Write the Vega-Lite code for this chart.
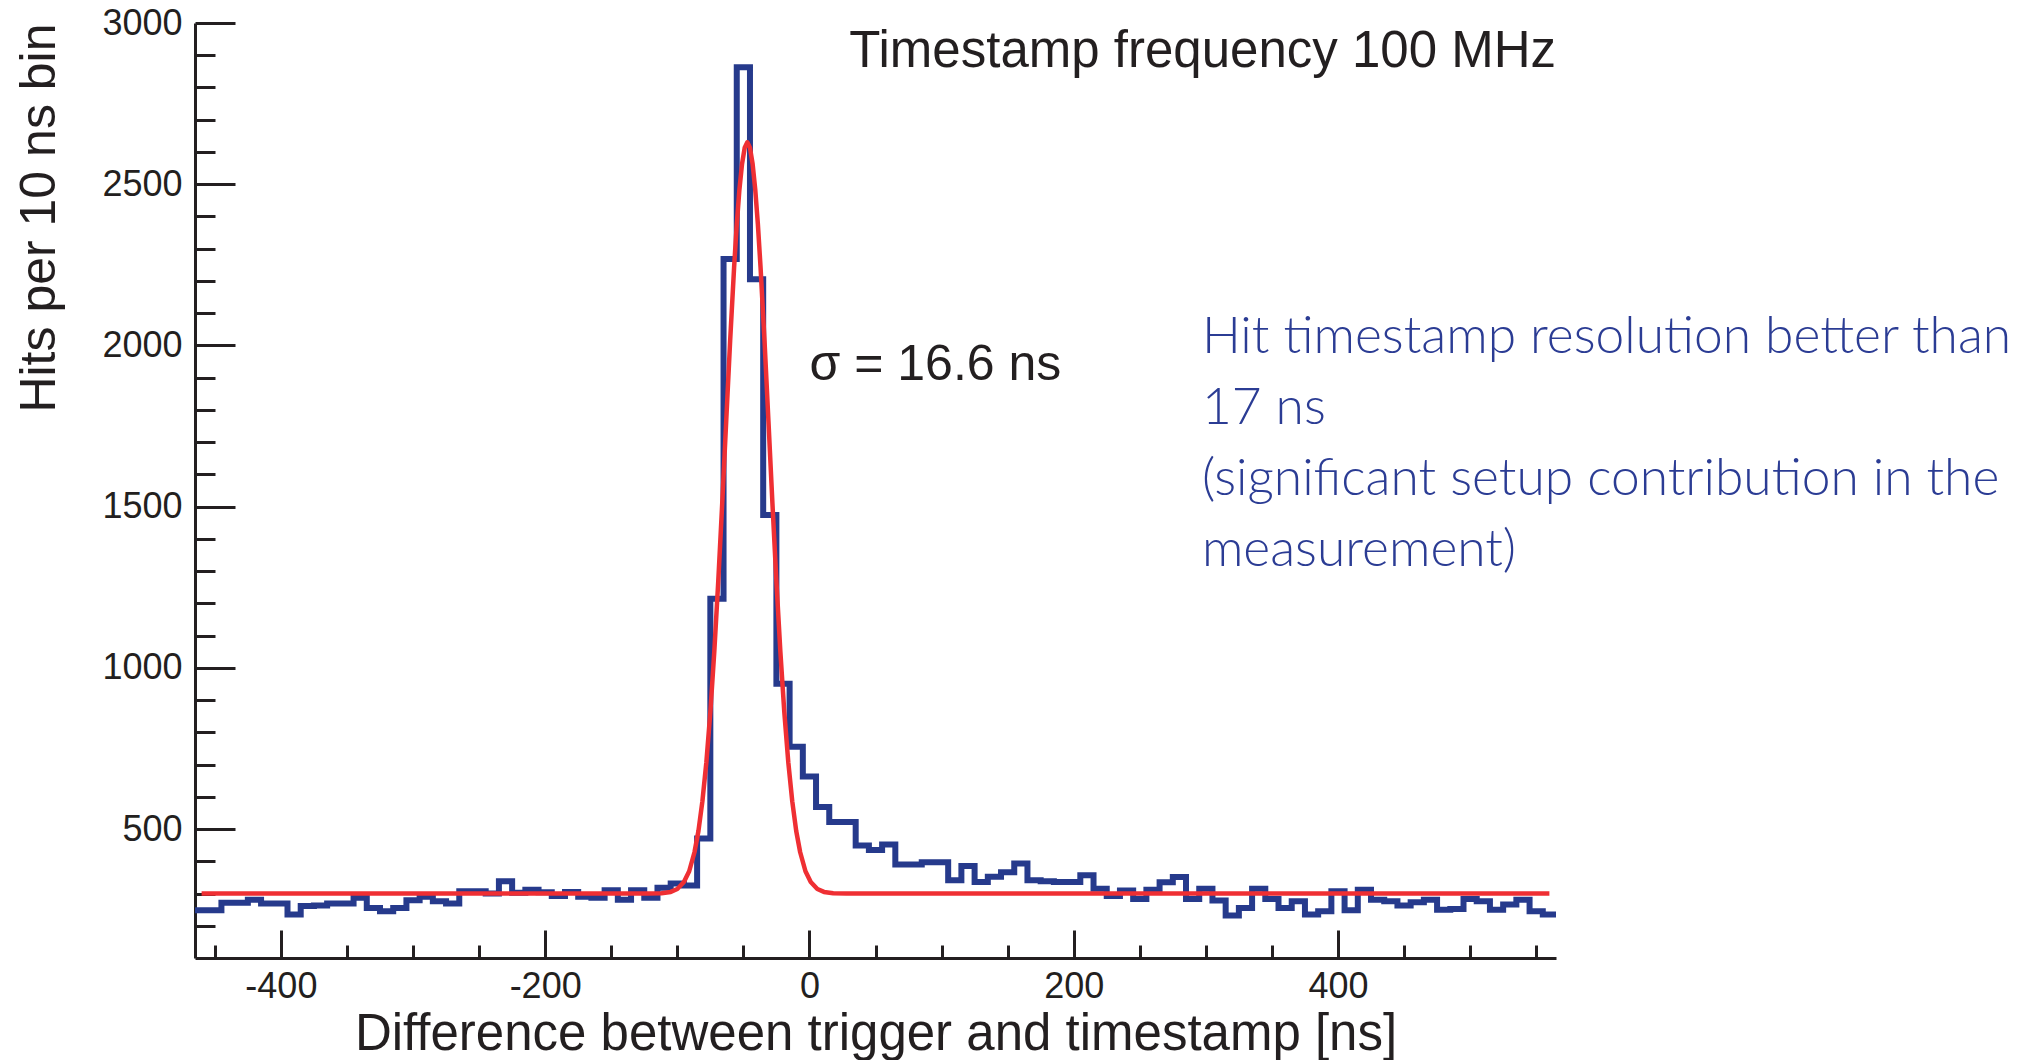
{
  "$schema": "https://vega.github.io/schema/vega-lite/v6.json",
  "width": 1361,
  "height": 935,
  "autosize": {"type": "none"},
  "padding": {"left": 195, "top": 23, "right": 479, "bottom": 102},
  "background": "white",
  "config": {"view": {"stroke": null}, "font": "Liberation Sans", "axis": {"grid": false, "labelFlush": false, "labelOverlap": false}},
  "datasets": {
    "hist": [
      {"t": -465, "hits": 248}, {"t": -455, "hits": 248}, {"t": -445, "hits": 271}, {"t": -435, "hits": 271},
      {"t": -425, "hits": 281}, {"t": -415, "hits": 269}, {"t": -405, "hits": 269}, {"t": -395, "hits": 235},
      {"t": -385, "hits": 261}, {"t": -375, "hits": 263}, {"t": -365, "hits": 269}, {"t": -355, "hits": 269},
      {"t": -345, "hits": 287}, {"t": -335, "hits": 255}, {"t": -325, "hits": 245}, {"t": -315, "hits": 255},
      {"t": -305, "hits": 279}, {"t": -295, "hits": 290}, {"t": -285, "hits": 276}, {"t": -275, "hits": 269},
      {"t": -265, "hits": 307}, {"t": -255, "hits": 307}, {"t": -245, "hits": 300}, {"t": -235, "hits": 338},
      {"t": -225, "hits": 302}, {"t": -215, "hits": 312}, {"t": -205, "hits": 304}, {"t": -195, "hits": 292},
      {"t": -185, "hits": 305}, {"t": -175, "hits": 290}, {"t": -165, "hits": 287}, {"t": -155, "hits": 310},
      {"t": -145, "hits": 281}, {"t": -135, "hits": 310}, {"t": -125, "hits": 287}, {"t": -115, "hits": 318},
      {"t": -105, "hits": 331}, {"t": -95, "hits": 325}, {"t": -85, "hits": 471}, {"t": -75, "hits": 1214},
      {"t": -65, "hits": 2268}, {"t": -55, "hits": 2863}, {"t": -45, "hits": 2205}, {"t": -35, "hits": 1474},
      {"t": -25, "hits": 951}, {"t": -15, "hits": 755}, {"t": -5, "hits": 663}, {"t": 5, "hits": 568},
      {"t": 15, "hits": 522}, {"t": 25, "hits": 522}, {"t": 35, "hits": 449}, {"t": 45, "hits": 435},
      {"t": 55, "hits": 452}, {"t": 65, "hits": 390}, {"t": 75, "hits": 390}, {"t": 85, "hits": 397},
      {"t": 95, "hits": 397}, {"t": 105, "hits": 341}, {"t": 115, "hits": 385}, {"t": 125, "hits": 336},
      {"t": 135, "hits": 352}, {"t": 145, "hits": 366}, {"t": 155, "hits": 393}, {"t": 165, "hits": 341},
      {"t": 175, "hits": 338}, {"t": 185, "hits": 336}, {"t": 195, "hits": 336}, {"t": 205, "hits": 357},
      {"t": 215, "hits": 315}, {"t": 225, "hits": 292}, {"t": 235, "hits": 309}, {"t": 245, "hits": 283},
      {"t": 255, "hits": 312}, {"t": 265, "hits": 335}, {"t": 275, "hits": 351}, {"t": 285, "hits": 283},
      {"t": 295, "hits": 315}, {"t": 305, "hits": 278}, {"t": 315, "hits": 232}, {"t": 325, "hits": 255},
      {"t": 335, "hits": 315}, {"t": 345, "hits": 283}, {"t": 355, "hits": 255}, {"t": 365, "hits": 276},
      {"t": 375, "hits": 235}, {"t": 385, "hits": 245}, {"t": 395, "hits": 307}, {"t": 405, "hits": 248},
      {"t": 415, "hits": 312}, {"t": 425, "hits": 281}, {"t": 435, "hits": 276}, {"t": 445, "hits": 263},
      {"t": 455, "hits": 273}, {"t": 465, "hits": 281}, {"t": 475, "hits": 250}, {"t": 485, "hits": 252},
      {"t": 495, "hits": 283}, {"t": 505, "hits": 276}, {"t": 515, "hits": 250}, {"t": 525, "hits": 266},
      {"t": 535, "hits": 281}, {"t": 545, "hits": 245}, {"t": 555, "hits": 235}, {"t": 565, "hits": 235}
    ],
    "fit": [
      {"t": -460, "f": 300}, {"t": -122, "f": 300}, {"t": -112, "f": 301}, {"t": -105, "f": 305},
      {"t": -100, "f": 314}, {"t": -95, "f": 336}, {"t": -91, "f": 369}, {"t": -87, "f": 428},
      {"t": -84, "f": 494}, {"t": -81, "f": 586}, {"t": -78, "f": 707}, {"t": -75, "f": 862},
      {"t": -72, "f": 1050}, {"t": -69, "f": 1268}, {"t": -66, "f": 1510}, {"t": -63, "f": 1764},
      {"t": -60, "f": 2015}, {"t": -57, "f": 2243}, {"t": -55, "f": 2375}, {"t": -53, "f": 2483},
      {"t": -51, "f": 2563}, {"t": -49, "f": 2613}, {"t": -47, "f": 2630}, {"t": -45, "f": 2613},
      {"t": -43, "f": 2563}, {"t": -41, "f": 2483}, {"t": -39, "f": 2375}, {"t": -37, "f": 2243},
      {"t": -34, "f": 2015}, {"t": -31, "f": 1764}, {"t": -28, "f": 1510}, {"t": -25, "f": 1268},
      {"t": -22, "f": 1050}, {"t": -19, "f": 862}, {"t": -16, "f": 707}, {"t": -13, "f": 586},
      {"t": -10, "f": 494}, {"t": -7, "f": 428}, {"t": -3, "f": 369}, {"t": 1, "f": 336},
      {"t": 6, "f": 314}, {"t": 11, "f": 305}, {"t": 18, "f": 301}, {"t": 28, "f": 300},
      {"t": 560, "f": 300}
    ]
  },
  "layer": [
    {
      "data": {"name": "hist"},
      "mark": {"type": "line", "interpolate": "step-after", "color": "#263a8c", "strokeWidth": 6, "strokeJoin": "miter", "strokeCap": "butt"},
      "encoding": {
        "x": {
          "field": "t", "type": "quantitative",
          "scale": {"domain": [-465, 565], "nice": false, "zero": false},
          "axis": {
            "orient": "bottom", "values": [-400, -200, 0, 200, 400], "ticks": false,
            "domain": true, "domainColor": "#231f20", "domainWidth": 3,
            "labelExpr": "'' + datum.value", "labelFont": "Liberation Sans", "labelFontSize": 36, "labelColor": "#231f20", "labelPadding": 11,
            "title": "Difference between trigger and timestamp [ns]", "titleFont": "Liberation Sans", "titleFontSize": 51,
            "titleFontWeight": "normal", "titleColor": "#231f20", "titlePadding": 5
          }
        },
        "y": {
          "field": "hits", "type": "quantitative",
          "scale": {"domain": [100, 3000], "nice": false, "zero": false},
          "axis": {
            "orient": "left", "values": [500, 1000, 1500, 2000, 2500, 3000], "ticks": false,
            "domain": true, "domainColor": "#231f20", "domainWidth": 3,
            "labelExpr": "'' + datum.value", "labelFont": "Liberation Sans", "labelFontSize": 36, "labelColor": "#231f20", "labelPadding": 13,
            "title": "Hits per 10 ns bin", "titleFont": "Liberation Sans", "titleFontSize": 50, "titleFontWeight": "normal",
            "titleColor": "#231f20", "titleAnchor": "end", "titlePadding": 37
          }
        }
      }
    },
    {
      "data": {"name": "fit"},
      "mark": {"type": "line", "color": "#ef2f33", "strokeWidth": 4.5, "strokeJoin": "round"},
      "encoding": {
        "x": {
          "field": "t", "type": "quantitative",
          "scale": {"domain": [-465, 565], "nice": false, "zero": false},
          "axis": {"orient": "bottom", "values": [-400, -200, 0, 200, 400], "labels": false, "domain": false, "ticks": true, "tickSize": -28, "tickWidth": 3, "tickColor": "#231f20", "title": null}
        },
        "y": {
          "field": "f", "type": "quantitative",
          "scale": {"domain": [100, 3000], "nice": false, "zero": false},
          "axis": {"orient": "left", "values": [500, 1000, 1500, 2000, 2500, 3000], "labels": false, "domain": false, "ticks": true, "tickSize": -40, "tickWidth": 3, "tickColor": "#231f20", "title": null}
        }
      }
    },
    {
      "data": {"values": [{}]},
      "mark": {"type": "text", "align": "left", "baseline": "alphabetic", "font": "Liberation Sans", "fontSize": 50, "color": "#231f20"},
      "encoding": {
        "x": {
          "datum": 0, "type": "quantitative",
          "scale": {"domain": [-465, 565], "nice": false, "zero": false},
          "axis": {"orient": "bottom", "values": [-450, -350, -300, -250, -150, -100, -50, 50, 100, 150, 250, 300, 350, 450, 500, 550], "labels": false, "domain": false, "ticks": true, "tickSize": -13, "tickWidth": 3, "tickColor": "#231f20", "title": null}
        },
        "y": {
          "datum": 1892, "type": "quantitative",
          "scale": {"domain": [100, 3000], "nice": false, "zero": false},
          "axis": {"orient": "left", "values": [200, 300, 400, 600, 700, 800, 900, 1100, 1200, 1300, 1400, 1600, 1700, 1800, 1900, 2100, 2200, 2300, 2400, 2600, 2700, 2800, 2900], "labels": false, "domain": false, "ticks": true, "tickSize": -20, "tickWidth": 3, "tickColor": "#231f20", "title": null}
        },
        "text": {"value": "σ = 16.6 ns"}
      }
    },
    {
      "data": {"values": [{}]},
      "mark": {"type": "text", "align": "right", "baseline": "alphabetic", "font": "Liberation Sans", "fontSize": 51, "color": "#231f20"},
      "encoding": {
        "x": {"datum": 565, "type": "quantitative", "scale": {"domain": [-465, 565], "nice": false, "zero": false}, "axis": null},
        "y": {"datum": 2862, "type": "quantitative", "scale": {"domain": [100, 3000], "nice": false, "zero": false}, "axis": null},
        "text": {"value": "Timestamp frequency 100 MHz"}
      }
    },
    {
      "data": {"values": [{}]},
      "mark": {"type": "text", "align": "left", "baseline": "alphabetic", "font": "Lato", "fontWeight": 300, "fontSize": 51.5, "lineHeight": 71, "color": "#2b3c94"},
      "encoding": {
        "x": {"datum": 297, "type": "quantitative", "scale": {"domain": [-465, 565], "nice": false, "zero": false}, "axis": null},
        "y": {"datum": 1975, "type": "quantitative", "scale": {"domain": [100, 3000], "nice": false, "zero": false}, "axis": null},
        "text": {"value": ["Hit timestamp resolution better than", "17 ns", "(significant setup contribution in the", "measurement)"]}
      }
    }
  ],
  "resolve": {"axis": {"x": "independent", "y": "independent"}}
}
